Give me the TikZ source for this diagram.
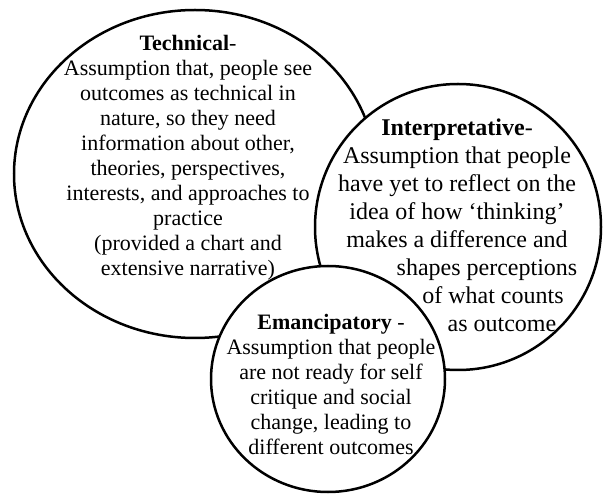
\documentclass[tikz,border=0pt]{standalone}
\usepackage{fontspec}
\setmainfont{Liberation Serif}

\begin{document}
\begin{tikzpicture}[x=1pt,y=-1pt,
  bubble/.style={draw=black, fill=white, line width=2.5pt},
  blurb/.style={align=center, inner sep=0pt, font=\fontsize{22}{25}\selectfont},
  bigblurb/.style={blurb, font=\fontsize{24}{28}\selectfont}]
\fill[white] (0,0) rectangle (603,494);
\useasboundingbox (0,0) rectangle (603,494);
% the three overlapping bubbles, drawn back to front
\draw[bubble] (195,174) ellipse [x radius=181pt, y radius=164pt];
\draw[bubble] (458,227) circle [radius=143pt];
\draw[bubble] (328,379) ellipse [x radius=117pt, y radius=113pt];
% texts
\node[blurb] (technical) at (188,158) {\textbf{Technical}-\\
  Assumption that, people see\\ outcomes as technical in\\ nature, so they need\\
  information about other,\\ theories, perspectives,\\ interests, and approaches to\\
  practice\\ (provided a chart and\\ extensive narrative)};
\node[bigblurb] (interp) at (457,183) {\textbf{Interpretative}-\\
  Assumption that people\\ have yet to reflect on the\\ idea of how ‘thinking’\\
  makes a difference and};
\node[bigblurb] (interptail) at (493,295) {shapes perceptions\hspace*{12pt}\\
  of what counts\\ \hspace*{18pt}as outcome};
\node[blurb] (emancip) at (331,384) {\textbf{Emancipatory} -\\
  Assumption that people\\ are not ready for self\\ critique and social\\
  change, leading to\\ different outcomes};
\end{tikzpicture}
\end{document}
